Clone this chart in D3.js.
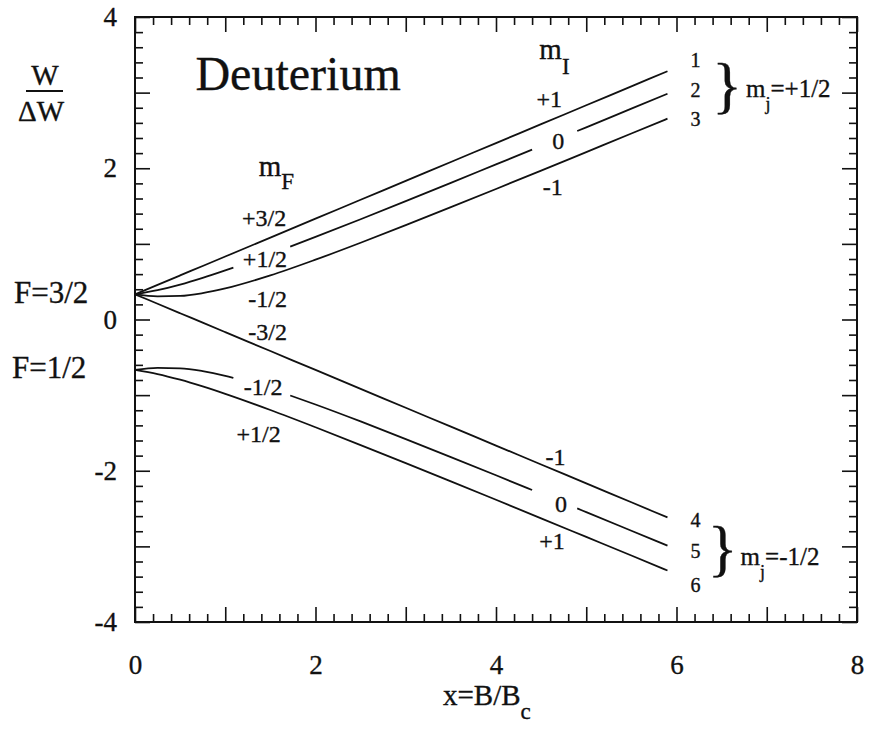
<!DOCTYPE html>
<html>
<head>
<meta charset="utf-8">
<script src="https://cdn.jsdelivr.net/npm/d3@7"></script>
<style>
  html, body { margin: 0; padding: 0; background: #fff; }
  svg { display: block; }
  text { font-family: "Liberation Serif", "Times New Roman", Times, serif; fill: #111; stroke: #111; stroke-width: 0.35px; }
</style>
</head>
<body>
<script>
// Breit–Rabi levels of deuterium: reduced energy W/ΔW against x = B/Bc
const xsPlain = [0, 0.25, 0.5, 0.75, 1, 1.5, 2, 2.5, 3, 3.5, 4, 4.5, 5, 5.5, 5.9];
const xsBroken = [0, 0.25, 0.5, 0.75, 1, 1.09, 1.5, 1.72, 2, 2.5, 3, 3.5, 4, 4.4, 4.5, 4.9, 5, 5.5, 5.9];

// upper group: m_j = +1/2 at high field
const level1 = [0.333, 0.458, 0.583, 0.708, 0.833, 1.083, 1.333, 1.583, 1.833, 2.083, 2.333, 2.583, 2.833, 3.083, 3.283];
const level2 = [0.333, 0.388, 0.462, 0.551, 0.650, 0.687, 0.864, 0.963, 1.092, 1.326, 1.565, 1.807, 2.051, 2.246, 2.296, 2.492, 2.541, 2.788, 2.985];
const level3 = [0.333, 0.307, 0.312, 0.349, 0.411, 0.583, 0.791, 1.015, 1.248, 1.485, 1.726, 1.969, 2.214, 2.459, 2.656];
// lower group: m_j = -1/2 at high field
const level4 = [0.333, 0.208, 0.083, -0.042, -0.167, -0.417, -0.667, -0.917, -1.167, -1.417, -1.667, -1.917, -2.167, -2.417, -2.617];
const level5 = [-0.667, -0.640, -0.645, -0.682, -0.744, -0.771, -0.917, -1.005, -1.124, -1.348, -1.581, -1.819, -2.060, -2.254, -2.303, -2.498, -2.547, -2.793, -2.990];
const level6 = [-0.667, -0.721, -0.796, -0.885, -0.983, -1.197, -1.425, -1.660, -1.899, -2.140, -2.384, -2.629, -2.875, -3.121, -3.319];

// breaks left in a curve where a quantum-number label sits
const noGaps = [];
const labelGaps = [[1.09, 1.72], [4.4, 4.9]];

const levels = [
  { xs: xsPlain, w: level1, gaps: noGaps },
  { xs: xsBroken, w: level2, gaps: labelGaps },
  { xs: xsPlain, w: level3, gaps: noGaps },
  { xs: xsPlain, w: level4, gaps: noGaps },
  { xs: xsBroken, w: level5, gaps: labelGaps },
  { xs: xsPlain, w: level6, gaps: noGaps }
];

const xTicksMajor = [0, 1, 2, 3, 4, 5, 6, 7, 8];
const yTicksMajor = [-4, -3, -2, -1, 0, 1, 2, 3, 4];

const W = 869, H = 731;
const plotLeft = 135, plotRight = 857, plotTop = 17, plotBottom = 622;
const serif = "'Liberation Serif', 'Times New Roman', Times, serif";

const svg = d3.select("body").append("svg").attr("width", W).attr("height", H);

const x = d3.scaleLinear().domain([0, 8]).range([plotLeft, plotRight]);
const y = d3.scaleLinear().domain([-4, 4]).range([plotBottom, plotTop]);

const minorOf = (lo, hi) => d3.range(Math.round(lo * 5), Math.round(hi * 5) + 1)
  .map(k => k / 5).filter(v => Math.abs(v - Math.round(v)) > 1e-6);
const xMinor = minorOf(0, 8);
const yMinor = minorOf(-4, 4);

const evenLabel = d => (d % 2 === 0 ? String(d) : "");

function styleAxis(g, size) {
  g.select(".domain").remove();
  g.selectAll(".tick line").attr("stroke", "#111").attr("stroke-width", 1.6);
  g.selectAll("text").attr("font-family", serif).attr("font-size", size).attr("fill", "#111");
  g.attr("font-family", null).attr("font-size", null);
}

// bottom axis
svg.append("g").attr("transform", `translate(0,${plotBottom})`)
  .call(d3.axisBottom(x).tickValues(xTicksMajor).tickSizeInner(-15).tickSizeOuter(0)
    .tickPadding(33).tickFormat(evenLabel))
  .call(g => styleAxis(g, 27));
svg.append("g").attr("transform", `translate(0,${plotBottom})`)
  .call(d3.axisBottom(x).tickValues(xMinor).tickSizeInner(-8).tickSizeOuter(0).tickFormat(""))
  .call(g => styleAxis(g, 27));
// top axis
svg.append("g").attr("transform", `translate(0,${plotTop})`)
  .call(d3.axisTop(x).tickValues(xTicksMajor).tickSizeInner(-15).tickSizeOuter(0).tickFormat(""))
  .call(g => styleAxis(g, 27));
svg.append("g").attr("transform", `translate(0,${plotTop})`)
  .call(d3.axisTop(x).tickValues(xMinor).tickSizeInner(-8).tickSizeOuter(0).tickFormat(""))
  .call(g => styleAxis(g, 27));
// left axis
svg.append("g").attr("transform", `translate(${plotLeft},0)`)
  .call(d3.axisLeft(y).tickValues(yTicksMajor).tickSizeInner(-15).tickSizeOuter(0)
    .tickPadding(18).tickFormat(evenLabel))
  .call(g => styleAxis(g, 27));
svg.append("g").attr("transform", `translate(${plotLeft},0)`)
  .call(d3.axisLeft(y).tickValues(yMinor).tickSizeInner(-8).tickSizeOuter(0).tickFormat(""))
  .call(g => styleAxis(g, 27));
// right axis
svg.append("g").attr("transform", `translate(${plotRight},0)`)
  .call(d3.axisRight(y).tickValues(yTicksMajor).tickSizeInner(-15).tickSizeOuter(0).tickFormat(""))
  .call(g => styleAxis(g, 27));
svg.append("g").attr("transform", `translate(${plotRight},0)`)
  .call(d3.axisRight(y).tickValues(yMinor).tickSizeInner(-8).tickSizeOuter(0).tickFormat(""))
  .call(g => styleAxis(g, 27));

// frame
svg.append("rect")
  .attr("x", x(0)).attr("y", y(4))
  .attr("width", x(8) - x(0)).attr("height", y(-4) - y(4))
  .attr("fill", "none").attr("stroke", "#111").attr("stroke-width", 2);

// energy levels
const line = d3.line()
  .x(d => x(d.x)).y(d => y(d.w))
  .curve(d3.curveMonotoneX);

levels.forEach(lv => {
  const pts = lv.xs.map((xv, i) => ({ x: xv, w: lv.w[i] }));
  const inGap = p => lv.gaps.some(g => p.x > g[0] + 1e-9 && p.x < g[1] - 1e-9);
  svg.append("path")
    .attr("d", line.defined(p => !inGap(p))(pts))
    .attr("fill", "none").attr("stroke", "#111").attr("stroke-width", 1.8)
    .attr("stroke-linejoin", "round");
});

// text helpers (positions in data units)
function label(t, xv, yv, size, anchor) {
  return svg.append("text").attr("x", x(xv)).attr("y", y(yv))
    .attr("font-size", size).attr("text-anchor", anchor || "middle").text(t);
}
function subLabel(main, sub, xv, yv, size, subSize, drop) {
  const t = svg.append("text").attr("x", x(xv)).attr("y", y(yv)).attr("font-size", size);
  t.append("tspan").text(main);
  t.append("tspan").attr("font-size", subSize).attr("dy", drop).text(sub);
  return t;
}

// title
label("Deuterium", 0.67, 3.03, 48, "start");

// m_F labels
subLabel("m", "F", 1.37, 1.90, 29, 23, 13);
label("+3/2", 1.43, 1.24, 24);
label("+1/2", 1.44, 0.69, 24);
label("-1/2", 1.47, 0.16, 24);
label("-3/2", 1.47, -0.27, 24);
label("-1/2", 1.42, -1.0, 24);
label("+1/2", 1.37, -1.62, 24);

// m_I labels
subLabel("m", "I", 4.48, 3.45, 29, 23, 15);
label("+1", 4.59, 2.81, 24);
label("0", 4.69, 2.25, 24);
label("-1", 4.63, 1.64, 24);
label("-1", 4.66, -1.92, 24);
label("0", 4.72, -2.54, 24);
label("+1", 4.62, -3.04, 24);

// level numbers at the right end
[["1", 3.34], ["2", 2.94], ["3", 2.56], ["4", -2.75], ["5", -3.16], ["6", -3.60]]
  .forEach(([t, yv]) => label(t, 6.21, yv, 20));

// braces grouping levels 1-3 and 4-6
label("}", 6.56, 2.82, 62);
label("}", 6.51, -3.30, 62);
function mj(rest, xv, yv) {
  const t = svg.append("text").attr("x", x(xv)).attr("y", y(yv)).attr("font-size", 25);
  t.append("tspan").text("m");
  t.append("tspan").attr("font-size", 18).attr("dy", 13).text("j");
  t.append("tspan").attr("dy", -13).text(rest);
}
mj("=+1/2", 6.77, 2.94);
mj("=-1/2", 6.71, -3.24);

// level families at zero field
svg.append("text").attr("x", 14).attr("y", 303).attr("font-size", 31).text("F=3/2");
svg.append("text").attr("x", 12).attr("y", 378).attr("font-size", 31).text("F=1/2");

// y axis title W/ΔW
svg.append("text").attr("x", 45).attr("y", 85).attr("font-size", 29).attr("text-anchor", "middle").text("W");
svg.append("line").attr("x1", 26).attr("x2", 63).attr("y1", 91).attr("y2", 91)
  .attr("stroke", "#111").attr("stroke-width", 1.8);
svg.append("text").attr("x", 41).attr("y", 121).attr("font-size", 29).attr("text-anchor", "middle").text("ΔW");

// x axis title
const xt = svg.append("text").attr("x", 443).attr("y", 705).attr("font-size", 29);
xt.append("tspan").text("x=B/B");
xt.append("tspan").attr("font-size", 23).attr("dy", 14).text("c");
</script>
</body>
</html>
